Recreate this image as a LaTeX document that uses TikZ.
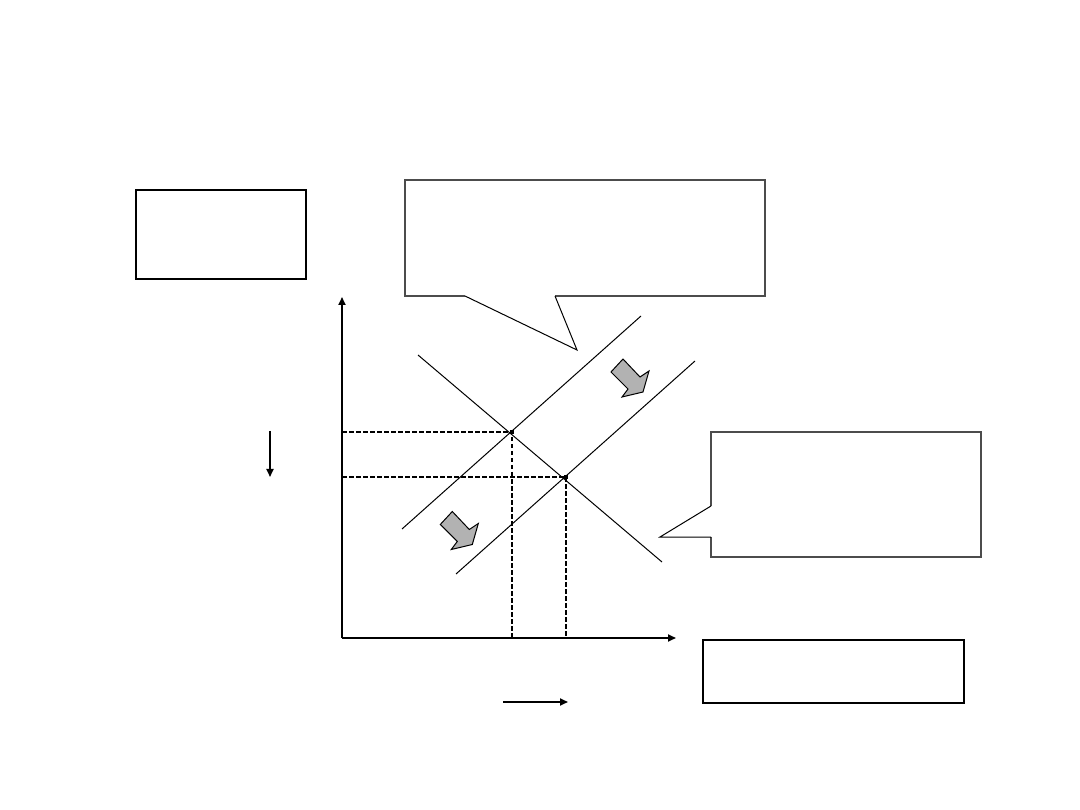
\documentclass[tikz,border=0pt]{standalone}
\usetikzlibrary{arrows.meta}
\begin{document}
\begin{tikzpicture}[x=1pt,y=-1pt,
  box/.style={draw=black,line width=1.8pt,inner sep=0pt,anchor=north west},
  callout/.style={draw=black!70,line width=1.4pt,line join=miter},
  pointer/.style={draw=black,line width=1pt,line join=miter},
  thinline/.style={line width=1pt},
  axis/.style={line width=1.8pt,-{Triangle[length=8pt,width=7pt]}},
  guide/.style={line width=1.4pt,dash pattern=on 4.5pt off 2.5pt},
  marker/.style={fill=black,minimum size=4pt,inner sep=0pt},
  smallarrow/.style={line width=1.8pt,-{Triangle[length=8pt,width=7pt]}},
  blockarrow/.style={draw=black,fill=gray!60,line width=1pt,line join=miter}]
\useasboundingbox (0,0) rectangle (1080,810);
% boxes
\node[box,minimum width=170pt,minimum height=89pt] (b1) at (135,189) {};
\node[box,minimum width=261pt,minimum height=63pt] (b3) at (702,639) {};
% callout 1
\coordinate (t1) at (577,350);
\draw[callout] (555,296) -- (765,296) -- (765,180) -- (405,180) -- (405,296) -- (465,296);
\draw[pointer] (465,296) -- (t1) -- (555,296);
% callout 2
\coordinate (t2) at (660,537);
\draw[callout] (711,506) -- (711,432) -- (981,432) -- (981,557) -- (711,557) -- (711,537);
\draw[pointer] (711,537) -- (t2) -- (711,506);
% axes
\coordinate (O) at (342,638);
\coordinate (ytop) at (342,297);
\coordinate (xend) at (676,638);
\draw[axis] (O) -- (ytop);
\draw[axis] (O) -- (xend);
% curves
\coordinate (s1a) at (402,529); \coordinate (s1b) at (641,316);
\coordinate (s2a) at (456,574); \coordinate (s2b) at (695,361);
\coordinate (da) at (418,355); \coordinate (db) at (662,562);
\draw[thinline] (s1a) -- (s1b);
\draw[thinline] (s2a) -- (s2b);
\draw[thinline] (da) -- (db);
% equilibria
\node[marker] (e1) at (512,432) {};
\node[marker] (e2) at (566,477) {};
\coordinate (e1y) at (342,432); \coordinate (e1x) at (512,638);
\coordinate (e2y) at (342,477); \coordinate (e2x) at (566,638);
\draw[guide] (e1y) -- (e1.center) -- (e1x);
\draw[guide] (e2y) -- (e2.center) -- (e2x);
% small arrows
\coordinate (pa) at (270,431); \coordinate (pb) at (270,477);
\draw[smallarrow] (pa) -- (pb);
\coordinate (qa) at (503,702); \coordinate (qb) at (568,702);
\draw[smallarrow] (qa) -- (qb);
% block arrows
\draw[blockarrow] (611,372) -- (623,359) -- (640,377) -- (649,371) -- (643,392) -- (622,397) -- (628,389) -- cycle;
\begin{scope}[shift={(-170.7,152.5)}]
\draw[blockarrow] (611,372) -- (623,359) -- (640,377) -- (649,371) -- (643,392) -- (622,397) -- (628,389) -- cycle;
\end{scope}
\end{tikzpicture}
\end{document}
